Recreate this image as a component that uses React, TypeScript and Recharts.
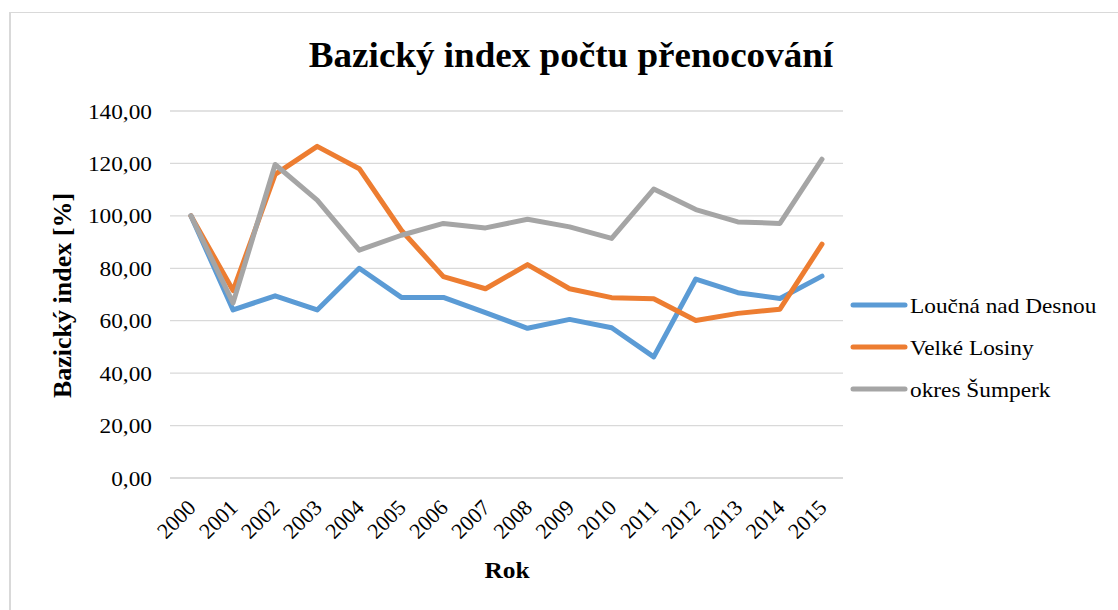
import React from 'react';
import { LineChart, Line, XAxis, YAxis, CartesianGrid } from 'recharts';

const years = ['2000', '2001', '2002', '2003', '2004', '2005', '2006', '2007', '2008', '2009', '2010', '2011', '2012', '2013', '2014', '2015'];
const loucna = [100, 64.1, 69.5, 64.1, 80.0, 68.9, 68.9, 63.1, 57.1, 60.5, 57.3, 46.2, 75.9, 70.7, 68.5, 77.0];
const velke = [100, 71.5, 115.8, 126.5, 118.0, 94.5, 76.8, 72.2, 81.4, 72.2, 68.8, 68.4, 60.1, 62.8, 64.4, 89.2];
const okres = [100, 66.8, 119.6, 106.0, 86.9, 92.6, 97.1, 95.4, 98.7, 95.8, 91.4, 110.2, 102.4, 97.7, 97.1, 121.6];
const yTicks = [0, 20, 40, 60, 80, 100, 120, 140];

const seriesKeys = ['loucna', 'velke', 'okres'];
const seriesNames = ['Loučná nad Desnou', 'Velké Losiny', 'okres Šumperk'];
const seriesColors = ['#5B9BD5', '#ED7D31', '#A5A5A5'];

const title = 'Bazický index počtu přenocování';
const yLabel = 'Bazický index [%]';
const xLabel = 'Rok';

const data = years.map((y, i) => ({ year: y, loucna: loucna[i], velke: velke[i], okres: okres[i] }));

const FONT = "Liberation Serif";
const SX = 1.06;

const fmt = (v: number) => v.toFixed(2).replace('.', ',');

const YTick = (props: any) => {
  const { x, y, payload } = props;
  return (
    <g transform={`translate(${x - 18},${y + 7.5}) scale(${SX},1)`}>
      <text x={0} y={0} textAnchor="end" style={{ fontFamily: FONT }} fontSize={22} fill="#000">
        {fmt(payload.value)}
      </text>
    </g>
  );
};

const XTick = (props: any) => {
  const { x, y, payload } = props;
  const ax = x + 6;
  const ay = y + 31;
  return (
    <text
      x={ax}
      y={ay}
      textAnchor="end"
      style={{ fontFamily: FONT }}
      fontSize={22}
      fill="#000"
      transform={`rotate(-45, ${ax}, ${ay})`}
    >
      {payload.value}
    </text>
  );
};

export default function App() {
  return (
    <div style={{ position: 'absolute', left: 0, top: 0, width: 1118, height: 610, background: '#fff', overflow: 'hidden' }}>
      <div
        style={{
          position: 'absolute',
          left: 9,
          top: 12,
          width: 1200,
          height: 700,
          borderTop: '1px solid #d9d9d9',
          borderLeft: '2px solid #d9d9d9',
        }}
      />
      <div style={{ position: 'absolute', left: 0, top: 0 }}>
        <LineChart width={1118} height={610} data={data} margin={{ top: 111, right: 275, bottom: 62, left: 90 }}>
          <CartesianGrid vertical={false} stroke="#d9d9d9" strokeWidth={1.3} />
          <XAxis
            dataKey="year"
            height={70}
            interval={0}
            padding={{ left: 21, right: 21 }}
            tickLine={false}
            tickSize={0}
            tickMargin={0}
            axisLine={{ stroke: '#d9d9d9', strokeWidth: 1.3 }}
            tick={<XTick />}
          />
          <YAxis
            width={80}
            domain={[0, 140]}
            ticks={yTicks}
            interval={0}
            axisLine={false}
            tickLine={false}
            tickSize={0}
            tickMargin={0}
            tick={<YTick />}
          />
          {seriesKeys.map((k, i) => (
            <Line
              key={k}
              type="linear"
              dataKey={k}
              name={seriesNames[i]}
              stroke={seriesColors[i]}
              strokeWidth={5}
              strokeLinecap="round"
              strokeLinejoin="round"
              dot={false}
              activeDot={false}
              isAnimationActive={false}
            />
          ))}
        </LineChart>
      </div>
      <svg width={1118} height={610} style={{ position: 'absolute', left: 0, top: 0, pointerEvents: 'none' }}>
        <g transform={`translate(571,66.7) scale(${SX},1)`}>
          <text x={0} y={0} textAnchor="middle" style={{ fontFamily: FONT }} fontSize={35} fontWeight="bold" fill="#000">
            {title}
          </text>
        </g>
        <g transform="translate(71,295.5) rotate(-90)">
          <text x={0} y={0} textAnchor="middle" style={{ fontFamily: FONT }} fontSize={26} fontWeight="bold" fill="#000">
            {yLabel}
          </text>
        </g>
        <g transform={`translate(507,578.3) scale(${SX},1)`}>
          <text x={0} y={0} textAnchor="middle" style={{ fontFamily: FONT }} fontSize={24} fontWeight="bold" fill="#000">
            {xLabel}
          </text>
        </g>
        {seriesNames.map((n, i) => (
          <g key={n}>
            <line
              x1={853}
              x2={905}
              y1={305 + i * 42}
              y2={305 + i * 42}
              stroke={seriesColors[i]}
              strokeWidth={5}
              strokeLinecap="round"
            />
            <g transform={`translate(910,${313 + i * 42}) scale(${SX},1)`}>
              <text x={0} y={0} style={{ fontFamily: FONT }} fontSize={22} fill="#000">
                {n}
              </text>
            </g>
          </g>
        ))}
      </svg>
    </div>
  );
}
